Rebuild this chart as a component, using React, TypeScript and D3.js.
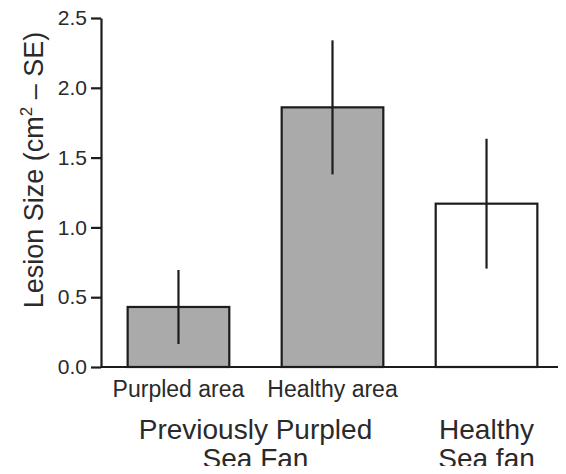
import React, { useEffect, useRef } from "react";
import { select, scaleLinear, scaleBand, axisLeft } from "d3";

const categories = ["Purpled area", "Healthy area", "Healthy sea fan"];
const subLabels = ["Purpled area", "Healthy area", ""];
const means = [0.43, 1.86, 1.17];
const errors = [0.265, 0.48, 0.465];
const fills = ["#aaaaaa", "#aaaaaa", "#ffffff"];
const yTicks = [0, 0.5, 1.0, 1.5, 2.0, 2.5];
const groups = [
  { lines: ["Previously Purpled", "Sea Fan"], from: 0, to: 1 },
  { lines: ["Healthy", "Sea fan"], from: 2, to: 2 },
];

const width = 566;
const height = 474;
const font = "'Liberation Sans', Arial, Helvetica, sans-serif";
const ink = "#1c1c1c";

export default function App() {
  const ref = useRef<SVGSVGElement>(null);

  useEffect(() => {
    const svg = select(ref.current);
    svg.selectAll("*").remove();

    const x0 = 101;
    const yScale = scaleLinear().domain([0, 2.5]).range([367, 18]);
    const xScale = scaleBand()
      .domain(categories)
      .range([x0, 564])
      .paddingInner(0.34)
      .paddingOuter(0.173);

    const g = svg.append("g");

    // bars
    g.selectAll("rect.bar")
      .data(categories)
      .enter()
      .append("rect")
      .attr("class", "bar")
      .attr("x", (d) => xScale(d)!)
      .attr("width", xScale.bandwidth())
      .attr("y", (d, i) => yScale(means[i]))
      .attr("height", (d, i) => yScale(0) - yScale(means[i]))
      .attr("fill", (d, i) => fills[i])
      .attr("stroke", ink)
      .attr("stroke-width", 2.2);

    // error bars
    g.selectAll("line.err")
      .data(categories)
      .enter()
      .append("line")
      .attr("class", "err")
      .attr("x1", (d) => xScale(d)! + xScale.bandwidth() / 2)
      .attr("x2", (d) => xScale(d)! + xScale.bandwidth() / 2)
      .attr("y1", (d, i) => yScale(means[i] + errors[i]))
      .attr("y2", (d, i) => yScale(means[i] - errors[i]))
      .attr("stroke", ink)
      .attr("stroke-width", 2.2);

    // x axis line
    g.append("line")
      .attr("x1", x0)
      .attr("x2", width)
      .attr("y1", yScale(0))
      .attr("y2", yScale(0))
      .attr("stroke", ink)
      .attr("stroke-width", 2.2);

    // y axis
    const yAxis = axisLeft(yScale)
      .tickValues(yTicks)
      .tickFormat((d) => (d as number).toFixed(1))
      .tickSize(10)
      .tickSizeOuter(0)
      .tickPadding(4);
    const yAxisG = g
      .append("g")
      .attr("transform", `translate(${x0},0)`)
      .call(yAxis);
    yAxisG.selectAll("path, line").attr("stroke", ink).attr("stroke-width", 2.2);
    yAxisG
      .selectAll("text")
      .attr("fill", "#2a2a2a")
      .style("font-family", font)
      .style("font-size", "21px");

    // y axis title
    const title = g
      .append("text")
      .attr("transform", `translate(43,${(32 + 308) / 2}) rotate(-90)`)
      .attr("text-anchor", "middle")
      .attr("fill", "#2a2a2a")
      .style("font-family", font)
      .style("font-size", "27px");
    title.append("tspan").text("Lesion Size (cm");
    title.append("tspan").attr("dy", -11).style("font-size", "17px").text("2");
    title.append("tspan").attr("dy", 11).text(" \u2013 SE)");

    // bar sub labels
    g.selectAll("text.sub")
      .data(categories)
      .enter()
      .append("text")
      .attr("class", "sub")
      .attr("x", (d) => xScale(d)! + xScale.bandwidth() / 2)
      .attr("y", 397)
      .attr("text-anchor", "middle")
      .attr("fill", "#2a2a2a")
      .style("font-family", font)
      .style("font-size", "23px")
      .text((d, i) => subLabels[i]);

    // group labels
    groups.forEach((grp) => {
      const a = xScale(categories[grp.from])!;
      const b = xScale(categories[grp.to])! + xScale.bandwidth();
      const t = g
        .append("text")
        .attr("x", (a + b) / 2)
        .attr("y", 439)
        .attr("text-anchor", "middle")
        .attr("fill", "#2a2a2a")
        .style("font-family", font)
        .style("font-size", "28px");
      grp.lines.forEach((ln, i) => {
        t.append("tspan")
          .attr("x", (a + b) / 2)
          .attr("dy", i === 0 ? 0 : 29)
          .text(ln);
      });
    });
  }, []);

  return (
    <div style={{ margin: -8 }}>
      <svg ref={ref} width={width} height={height} style={{ display: "block" }} />
    </div>
  );
}
